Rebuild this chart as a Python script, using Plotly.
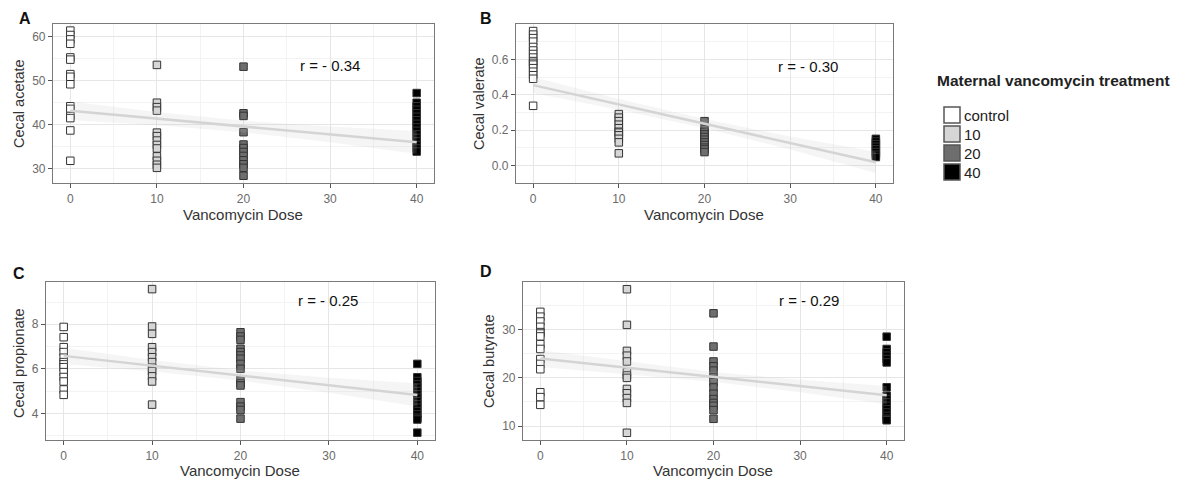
import plotly.graph_objects as go

W, H = 1182, 480
FONT = "Liberation Sans, Arial, sans-serif"

# ---------------- data ----------------
groups = ["control", "10", "20", "40"]
group_dose = [0, 10, 20, 40]
group_fill = ["#ffffff", "#d6d6d6", "#6e6e6e", "#000000"]

acetate_control = [61.4, 60.4, 59.4, 58.4, 55.3, 54.8, 51.5, 50.9, 49.2, 44.2, 43.6, 42.0, 41.5, 38.7, 31.8]
acetate_10 = [53.6, 45.0, 44.0, 43.2, 38.2, 37.4, 36.4, 35.4, 34.6, 32.8, 31.8, 30.9, 30.2]
acetate_20 = [53.2, 42.6, 42.0, 38.3, 35.5, 34.7, 33.8, 32.9, 31.9, 31.0, 30.2, 28.4]
acetate_40 = [47.2, 45.0, 44.2, 43.4, 42.6, 41.8, 41.0, 40.2, 39.4, 38.6, 37.8, 37.0, 36.2, 35.4, 34.6, 33.9]

valerate_control = [0.76, 0.74, 0.72, 0.70, 0.67, 0.65, 0.63, 0.61, 0.59, 0.58, 0.57, 0.55, 0.53, 0.51, 0.49, 0.337]
valerate_10 = [0.29, 0.27, 0.25, 0.23, 0.21, 0.19, 0.185, 0.17, 0.15, 0.13, 0.068]
valerate_20 = [0.25, 0.205, 0.19, 0.175, 0.16, 0.145, 0.13, 0.115, 0.10, 0.09, 0.075]
valerate_40 = [0.15, 0.135, 0.12, 0.105, 0.09, 0.075, 0.06, 0.047]

propionate_control = [7.88, 7.42, 6.97, 6.75, 6.5, 6.3, 6.2, 6.07, 5.85, 5.63, 5.43, 5.07, 4.83]
propionate_10 = [9.58, 7.9, 7.57, 6.97, 6.75, 6.52, 6.3, 6.05, 5.9, 5.66, 5.43, 4.39]
propionate_20 = [7.64, 7.45, 7.3, 6.9, 6.75, 6.6, 6.45, 6.22, 6.0, 5.5, 5.35, 5.25, 4.5, 4.3, 4.15, 3.76]
propionate_40 = [6.22, 5.62, 5.45, 5.3, 5.15, 5.0, 4.85, 4.7, 4.55, 4.4, 4.25, 4.1, 3.95, 3.8, 3.72, 3.13]

butyrate_control = [33.7, 32.7, 31.7, 30.6, 29.5, 29.2, 28.6, 27.0, 26.0, 23.9, 22.9, 21.8, 17.0, 16.0, 14.4]
butyrate_10 = [38.4, 31.0, 25.6, 24.6, 23.4, 21.2, 20.5, 20.0, 17.7, 16.8, 15.8, 14.8, 8.6]
butyrate_20 = [33.4, 26.5, 23.4, 22.4, 21.5, 20.1, 19.1, 18.0, 16.7, 15.6, 14.8, 14.2, 13.3, 11.5]
butyrate_40 = [28.55, 26.0, 25.3, 24.6, 23.9, 23.2, 18.05, 16.3, 15.6, 14.9, 14.2, 13.5, 12.8, 12.1, 11.5, 11.2]

# regression line and confidence band
fit_x = [0, 10, 20, 30, 40]
acetate_fit = [43.2, 41.4, 39.6, 37.8, 36.0]
acetate_lo = [41.1, 39.9, 38.3, 36.0, 33.4]
acetate_hi = [45.3, 42.9, 40.9, 39.6, 38.6]
valerate_fit = [0.454, 0.345, 0.236, 0.126, 0.017]
valerate_lo = [0.41, 0.315, 0.21, 0.089, -0.043]
valerate_hi = [0.50, 0.375, 0.262, 0.163, 0.077]
propionate_fit = [6.58, 6.14, 5.70, 5.26, 4.82]
propionate_lo = [6.22, 5.88, 5.47, 4.92, 4.30]
propionate_hi = [6.94, 6.40, 5.93, 5.60, 5.34]
butyrate_fit = [24.0, 22.1, 20.2, 18.3, 16.4]
butyrate_lo = [22.25, 20.8, 19.2, 17.0, 14.5]
butyrate_hi = [25.75, 23.4, 21.2, 19.6, 18.3]

r_labels = ["r = - 0.34", "r = - 0.30", "r = - 0.25", "r = - 0.29"]
y_titles = ["Cecal acetate", "Cecal valerate", "Cecal propionate", "Cecal butyrate"]
x_title = "Vancomycin Dose"
panel_letters = ["A", "B", "C", "D"]
legend_title = "Maternal vancomycin treatment"
x_ticks = [0, 10, 20, 30, 40]
acetate_ticks = [30, 40, 50, 60]
valerate_ticks = [0.0, 0.2, 0.4, 0.6]
propionate_ticks = [4, 6, 8]
butyrate_ticks = [10, 20, 30]

# ---------------- layout helpers ----------------
def fx(p):
    return p / W

def fy(p):
    return 1 - p / H

panels = [
    dict(vals=[acetate_control, acetate_10, acetate_20, acetate_40],
         fit=acetate_fit, lo=acetate_lo, hi=acetate_hi, ticks=acetate_ticks,
         box=(53, 434, 24, 183), yr=[26.75, 62.9], minor=5, fmt="",
         rpos=(30, 53.5), letter=(25, 19), ytit=(19, 103), xtit=(243, 214)),
    dict(vals=[valerate_control, valerate_10, valerate_20, valerate_40],
         fit=valerate_fit, lo=valerate_lo, hi=valerate_hi, ticks=valerate_ticks,
         box=(516, 893, 24, 183), yr=[-0.1, 0.8], minor=0.1, fmt=".1f",
         rpos=(32.1, 0.562), letter=(486, 19), ytit=(479, 104), xtit=(704, 214)),
    dict(vals=[propionate_control, propionate_10, propionate_20, propionate_40],
         fit=propionate_fit, lo=propionate_lo, hi=propionate_hi, ticks=propionate_ticks,
         box=(46, 435, 282, 440), yr=[2.8, 9.9], minor=1, fmt="",
         rpos=(29.9, 9.05), letter=(19, 273), ytit=(19, 363), xtit=(240, 470)),
    dict(vals=[butyrate_control, butyrate_10, butyrate_20, butyrate_40],
         fit=butyrate_fit, lo=butyrate_lo, hi=butyrate_hi, ticks=butyrate_ticks,
         box=(523, 904, 282, 440), yr=[7.1, 39.9], minor=5, fmt="",
         rpos=(31, 36.1), letter=(486, 271), ytit=(489, 361), xtit=(713, 470)),
]

fig = go.Figure()
annotations = []
shapes = []
layout = dict(
    width=W, height=H,
    margin=dict(l=0, r=0, t=0, b=0),
    paper_bgcolor="white", plot_bgcolor="white",
    showlegend=False,
    font=dict(family=FONT, color="#222222"),
)

for i, p in enumerate(panels):
    n = "" if i == 0 else str(i + 1)
    xa, ya = "x" + n, "y" + n
    x0, x1, y0, y1 = p["box"]
    # points
    for g, dose, fill, vals in zip(groups, group_dose, group_fill, p["vals"]):
        fig.add_trace(go.Scatter(
            x=[dose] * len(vals), y=vals, mode="markers", name=g,
            xaxis=xa, yaxis=ya,
            marker=dict(symbol="square", size=7.5, color=fill,
                        line=dict(color="#333333", width=1)),
        ))
    # confidence band
    fig.add_trace(go.Scatter(
        x=fit_x + fit_x[::-1], y=p["hi"] + p["lo"][::-1],
        mode="lines", fill="toself", fillcolor="rgba(195,195,195,0.17)",
        line=dict(width=0), xaxis=xa, yaxis=ya, hoverinfo="skip",
    ))
    # regression line
    fig.add_trace(go.Scatter(
        x=fit_x, y=p["fit"], mode="lines",
        line=dict(color="#d4d4d4", width=2.5), xaxis=xa, yaxis=ya,
    ))

    common = dict(
        showline=True, mirror=True, linecolor="#7a7a7a", linewidth=1.2,
        showgrid=True, gridcolor="#e6e6e6", gridwidth=1.4,
        zeroline=False, ticks="outside", ticklen=4, tickcolor="#555555",
        tickfont=dict(family=FONT, size=12, color="#6b6b6b"),
    )
    layout["xaxis" + n] = dict(
        common, domain=[fx(x0), fx(x1)], anchor=ya, range=[-2, 42],
        tickvals=x_ticks,
        minor=dict(dtick=5, tick0=0, showgrid=True, gridcolor="#f3f3f3", gridwidth=1, ticks=""),
    )
    layout["yaxis" + n] = dict(
        common, domain=[fy(y1), fy(y0)], anchor=xa, range=p["yr"],
        tickvals=p["ticks"], tickformat=p["fmt"],
        minor=dict(dtick=p["minor"], tick0=0, showgrid=True, gridcolor="#f3f3f3", gridwidth=1, ticks=""),
    )

    annotations.append(dict(text=r_labels[i], x=p["rpos"][0], y=p["rpos"][1],
                            xref=xa, yref=ya, showarrow=False,
                            font=dict(family=FONT, size=15, color="#111111")))
    annotations.append(dict(text="<b>" + panel_letters[i] + "</b>",
                            x=fx(p["letter"][0]), y=fy(p["letter"][1]),
                            xref="paper", yref="paper", showarrow=False,
                            xanchor="center", yanchor="middle",
                            font=dict(family=FONT, size=16, color="#111111")))
    annotations.append(dict(text=y_titles[i], x=fx(p["ytit"][0]), y=fy(p["ytit"][1]),
                            xref="paper", yref="paper", showarrow=False, textangle=-90,
                            xanchor="center", yanchor="middle",
                            font=dict(family=FONT, size=14.5, color="#333333")))
    annotations.append(dict(text=x_title, x=fx(p["xtit"][0]), y=fy(p["xtit"][1]),
                            xref="paper", yref="paper", showarrow=False,
                            xanchor="center", yanchor="middle",
                            font=dict(family=FONT, size=15, color="#333333")))

# ---------------- legend (drawn as shapes + text) ----------------
annotations.append(dict(text="<b>" + legend_title + "</b>", x=fx(935), y=fy(81),
                        xref="paper", yref="paper", showarrow=False,
                        xanchor="left", yanchor="middle",
                        font=dict(family=FONT, size=15.5, color="#222222")))
leg_y = [115, 134, 153, 172]
for g, fill, cy in zip(groups, group_fill, leg_y):
    shapes.append(dict(type="rect", xref="paper", yref="paper",
                       x0=fx(944), x1=fx(960), y0=fy(cy + 8), y1=fy(cy - 8),
                       fillcolor=fill, line=dict(color="#555555", width=1.5)))
    annotations.append(dict(text=g, x=fx(962), y=fy(cy), xref="paper", yref="paper",
                            showarrow=False, xanchor="left", yanchor="middle",
                            font=dict(family=FONT, size=15, color="#222222")))

layout["annotations"] = annotations
layout["shapes"] = shapes
fig.update_layout(**layout)
fig.write_html("out.html")
